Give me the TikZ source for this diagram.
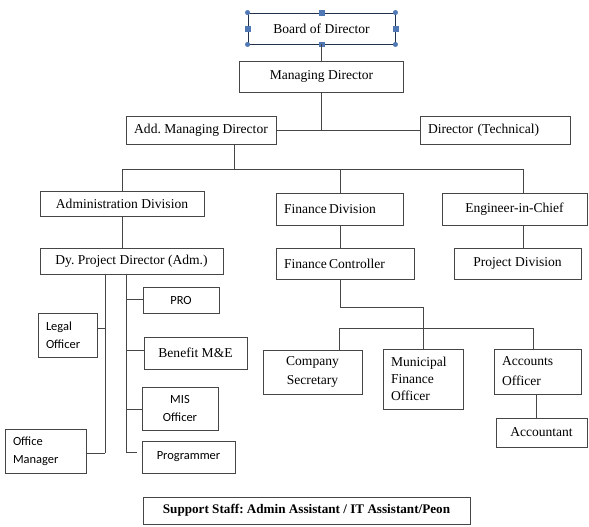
\documentclass[tikz,border=0pt]{standalone}
\usepackage{fontspec}
\setmainfont{Liberation Serif}
\newfontfamily\calib{Carlito}
\definecolor{handle}{RGB}{79,120,180}
\definecolor{ln}{RGB}{70,70,70}
\frenchspacing
\begin{document}
\begin{tikzpicture}[x=1bp,y=-1bp,
  box/.style={draw=ln, line width=0.9bp, inner sep=0pt, align=center,
    font=\fontsize{13.6}{16}\selectfont},
  lbox/.style={box, align=left, inner xsep=8bp},
  sbox/.style={box, font=\calib\fontsize{12.5}{18}\selectfont},
  slbox/.style={sbox, align=left, inner xsep=8bp},
  conn/.style={draw=ln, line width=0.9bp},
  hsq/.style={fill=handle, draw=handle, minimum size=4.5bp, inner sep=0pt},
  hci/.style={fill=handle, draw=handle, circle, minimum size=4.5bp, inner sep=0pt}]
\useasboundingbox (0,0) rectangle (589,527);
\fill[white] (0,0) rectangle (589,527);
% top
\node[box, draw=black!60!handle, minimum width=147bp, minimum height=31bp] (board) at (321.5,28.5) {Board of Director};
\node[box, minimum width=164bp, minimum height=31bp] (md) at (321.5,76.5) {Managing Director};
\node[box, minimum width=150bp, minimum height=28bp] (amd) at (201,130) {Add. Managing Director};
\node[lbox, text width=134bp, minimum height=28bp] (dt) at (495,130) {Director (Technical)};
% divisions
\node[box, minimum width=164bp, minimum height=25bp] (admin) at (122,203.5) {Administration Division};
\node[lbox, text width=111bp, inner xsep=8bp, minimum height=32bp] (fin) at (339.5,209) {Finance\,Division};
\node[box, minimum width=145bp, minimum height=32bp] (eic) at (514.5,209) {Engineer-in-Chief};
\node[box, minimum width=183bp, minimum height=26bp] (dy) at (131.5,261) {Dy. Project Director (Adm.)};
\node[lbox, text width=122bp, minimum height=31bp] (fc) at (345,263.5) {Finance\,Controller};
\node[box, minimum width=127bp, minimum height=31bp] (pd) at (517.5,263.5) {Project Division};
% admin staff
\node[sbox, minimum width=76bp, minimum height=26bp] (pro) at (181,300) {PRO};
\node[slbox, text width=43bp, minimum height=44bp] (legal) at (67.5,335) {Legal\\Officer};
\node[box, minimum width=103bp, minimum height=32bp] (ben) at (195.5,353) {Benefit M\&E};
\node[sbox, minimum width=76bp, minimum height=43bp] (mis) at (180,408.5) {MIS\\Officer};
\node[sbox, minimum width=93bp, minimum height=32bp] (prog) at (188.5,457) {Programmer};
\node[slbox, text width=65bp, minimum height=44bp] (office) at (45.5,451) {Office\\Manager};
% finance staff
\node[box, font=\fontsize{13.6}{20}\selectfont, minimum width=99bp, minimum height=44bp] (cs) at (312.5,372) {Company\\Secretary};
\node[lbox, font=\fontsize{13.6}{17}\selectfont, text width=64bp, minimum height=60bp] (mfo) at (423,379) {Municipal\\Finance\\Officer};
\node[lbox, font=\fontsize{13.6}{20}\selectfont, text width=71bp, minimum height=45bp] (ao) at (537.5,371.5) {Accounts\\Officer};
\node[box, minimum width=91bp, minimum height=29bp] (acc) at (541.5,432.5) {Accountant};
% support
\node[box, font=\bfseries\fontsize{13.2}{16}\selectfont, minimum width=327bp, minimum height=27bp] (sup) at (306.5,510.5) {Support Staff: Admin Assistant / IT Assistant/Peon};
% selection handles of board
\foreach \a in {north west,north east,south west,south east}
  \node[hci] at (board.\a) {};
\foreach \a in {north,south,east,west}
  \node[hsq] at (board.\a) {};
% coordinates
\coordinate (j1) at (321.5,130);
\coordinate (j2) at (234,169);
\coordinate (hl) at (122,169);
\coordinate (hr) at (523,169);
\coordinate (la) at (105,274);
\coordinate (lb) at (126,274);
\coordinate (fcd) at (340,307);
\coordinate (fcr) at (423,307);
\coordinate (fl) at (339,328);
\coordinate (fr) at (533,328);
% connectors
\draw[conn] (board.south) -- (md.north);
\draw[conn] (md.south) -- (j1);
\draw[conn] (amd.east) -- (dt.west);
\draw[conn] (amd.south -| j2) -- (j2);
\draw[conn] (hl) -- (hr);
\draw[conn] (hl) -- (admin.north);
\draw[conn] (340,169) -- (340,193);
\draw[conn] (hr) -- (eic.north -| hr);
\draw[conn] (admin.south) -- (dy.north -| admin.south);
\draw[conn] (la) -- (105,453);
\draw[conn] (lb) -- (126,452);
\draw[conn] (legal.east |- 0,328) -- (105,328);
\draw[conn] (office.east |- 0,453) -- (105,453);
\draw[conn] (126,299) -- (pro.west |- 0,299);
\draw[conn] (126,350) -- (ben.west |- 0,350);
\draw[conn] (126,409) -- (mis.west |- 0,409);
\draw[conn] (126,452) -- (137,452);
\draw[conn] (340,225) -- (340,248);
\draw[conn] (eic.south -| hr) -- (pd.north -| hr);
\draw[conn] (fc.south -| fcd) -- (fcd) -- (fcr) -- (mfo.north -| fcr);
\draw[conn] (fl) -- (fr);
\draw[conn] (fl) -- (cs.north -| fl);
\draw[conn] (fr) -- (ao.north -| fr);
\draw[conn] (536,394) -- (acc.north -| 536,0);
\end{tikzpicture}
\end{document}
